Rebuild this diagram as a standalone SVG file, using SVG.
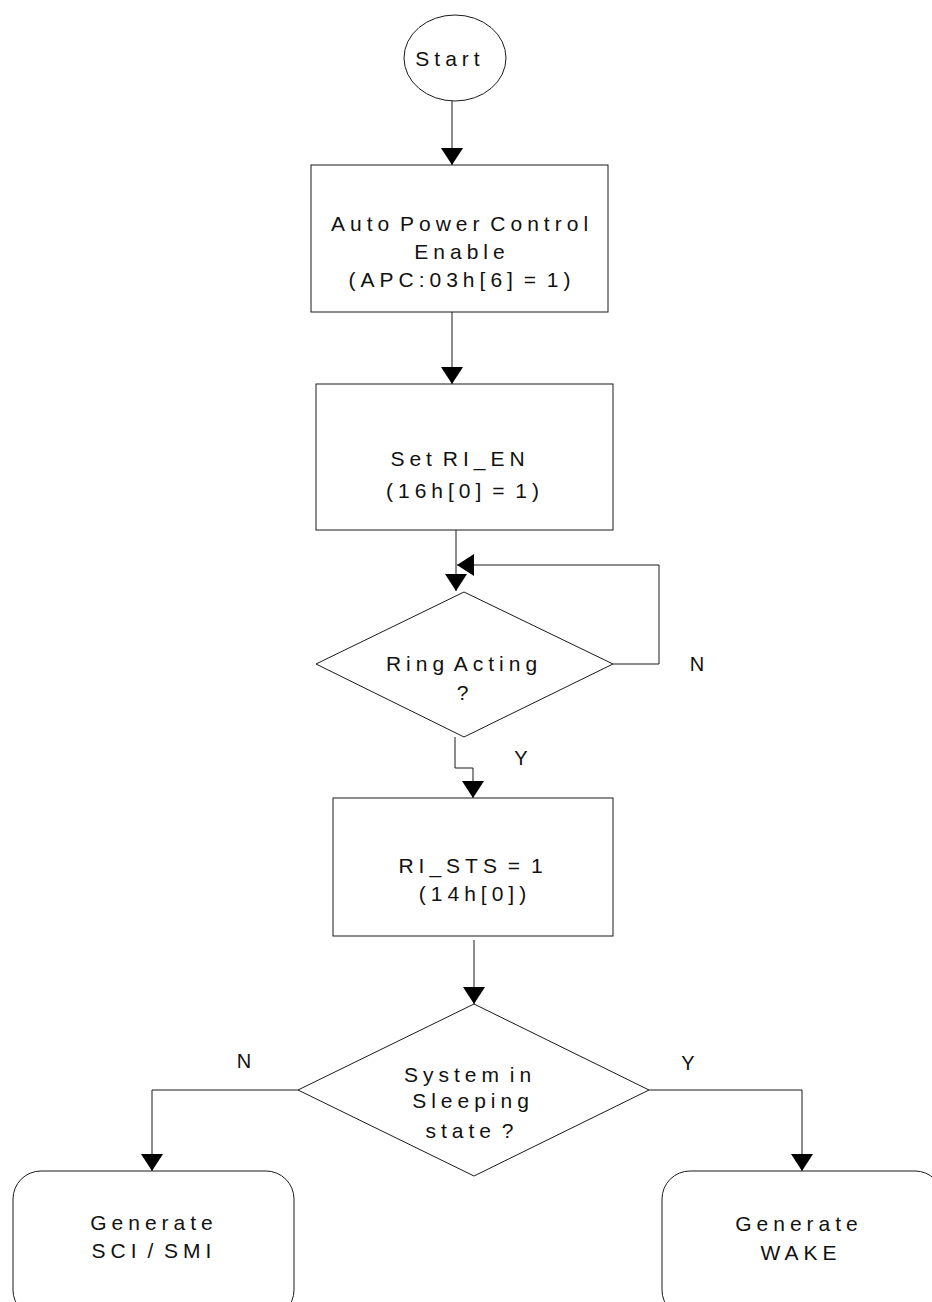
<svg xmlns="http://www.w3.org/2000/svg" width="932" height="1302" viewBox="0 0 932 1302">
<style>
.shape{fill:#fff;stroke:#1a1a1a;stroke-width:1}
.conn{fill:none;stroke:#1a1a1a;stroke-width:1}
.t{font-family:"Liberation Sans",Arial,sans-serif;font-size:21px;letter-spacing:5px;word-spacing:-5px;fill:#111;text-anchor:middle}
.lbl{font-family:"Liberation Sans",Arial,sans-serif;font-size:20px;fill:#111;text-anchor:middle}
</style>
<defs>
<marker id="ah" viewBox="0 0 17 22" refX="17" refY="11" markerWidth="17" markerHeight="22" markerUnits="userSpaceOnUse" orient="auto">
<path d="M0,0 L17,11 L0,22 z" fill="#000"/>
</marker>
</defs>
<rect width="932" height="1302" fill="#fff"/>
<g id="start">
<ellipse class="shape" cx="455" cy="58" rx="51" ry="43"/>
<text class="t" x="450" y="66">Start</text>
</g>
<g id="apc">
<rect class="shape" x="311" y="165" width="297" height="147"/>
<text class="t" x="462" y="231">Auto Power Control</text>
<text class="t" x="462" y="259">Enable</text>
<text class="t" x="462" y="287">(APC:03h[6] = 1)</text>
</g>
<g id="setri">
<rect class="shape" x="316" y="384" width="297" height="146"/>
<text class="t" x="460" y="466">Set RI_EN</text>
<text class="t" x="465" y="498">(16h[0] = 1)</text>
</g>
<g id="ring">
<polygon class="shape" points="464,592 613,664 464,737 316,664"/>
<text class="t" x="464" y="671">Ring Acting</text>
<text class="t" x="465" y="700">?</text>
</g>
<g id="rists">
<rect class="shape" x="333" y="798" width="280" height="138"/>
<text class="t" x="473" y="873">RI_STS = 1</text>
<text class="t" x="475" y="901">(14h[0])</text>
</g>
<g id="sleep">
<polygon class="shape" points="474,1004 649,1090 474,1176 298,1090"/>
<text class="t" x="470" y="1082">System in</text>
<text class="t" x="473" y="1108">Sleeping</text>
<text class="t" x="472" y="1138">state ?</text>
</g>
<g id="scismi">
<rect class="shape" x="13" y="1171" width="281" height="147" rx="28" ry="28"/>
<text class="t" x="154" y="1230">Generate</text>
<text class="t" x="154" y="1258">SCI / SMI</text>
</g>
<g id="wake">
<rect class="shape" x="662" y="1171" width="281" height="147" rx="28" ry="28"/>
<text class="t" x="799" y="1231">Generate</text>
<text class="t" x="801" y="1260">WAKE</text>
</g>
<g id="connectors">
<path class="conn" d="M452,101 V165" marker-end="url(#ah)"/>
<path class="conn" d="M452,312 V384" marker-end="url(#ah)"/>
<path class="conn" d="M456,530 V591" marker-end="url(#ah)"/>
<path class="conn" d="M613,664 H659 V565 H457" marker-end="url(#ah)"/>
<path class="conn" d="M455,737 V768 H473 V798" marker-end="url(#ah)"/>
<path class="conn" d="M474,940 V1004" marker-end="url(#ah)"/>
<path class="conn" d="M298,1090 H152 V1171" marker-end="url(#ah)"/>
<path class="conn" d="M649,1090 H802 V1171" marker-end="url(#ah)"/>
<text class="lbl" x="697" y="671">N</text>
<text class="lbl" x="521" y="765">Y</text>
<text class="lbl" x="244" y="1068">N</text>
<text class="lbl" x="688" y="1070">Y</text>
</g>
</svg>
